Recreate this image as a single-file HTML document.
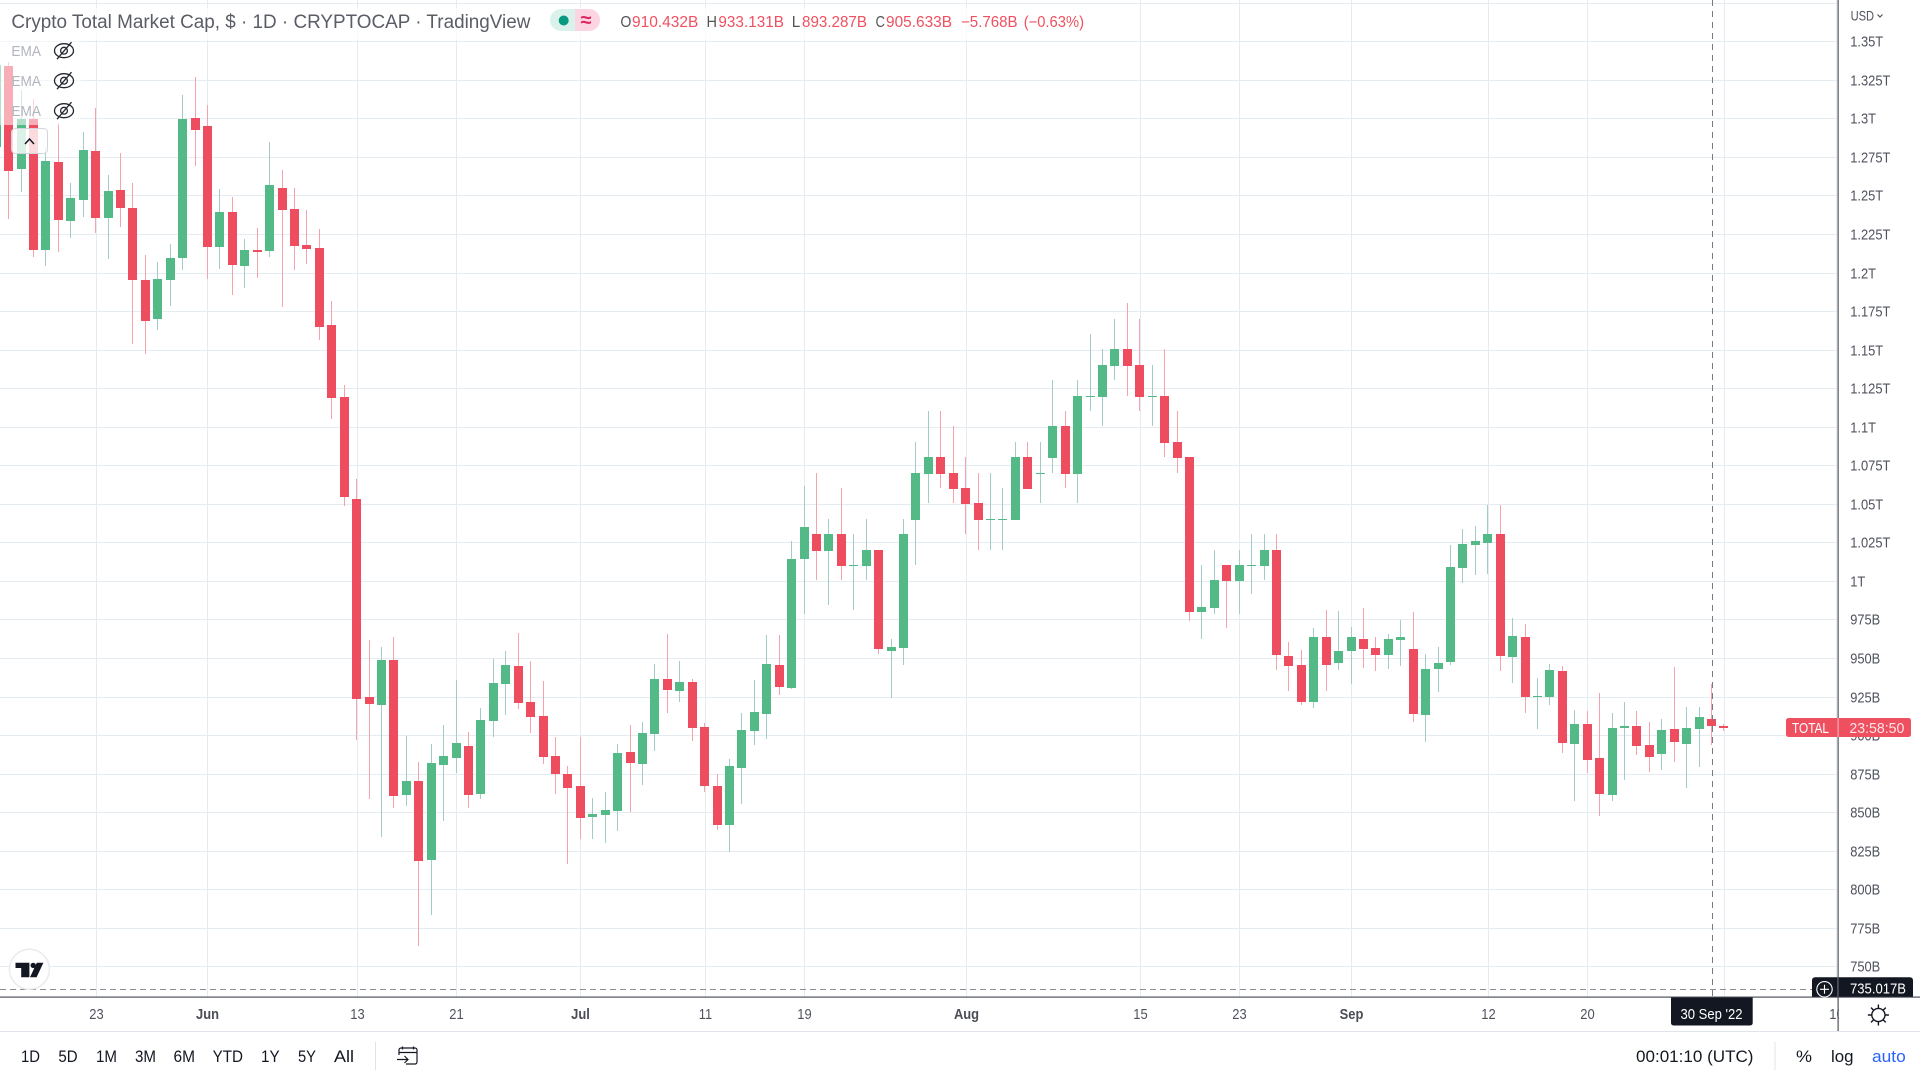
<!DOCTYPE html>
<html lang="en">
<head>
<meta charset="utf-8">
<title>Crypto Total Market Cap chart</title>
<style>
html,body{margin:0;padding:0;background:#fff;overflow:hidden}
svg{display:block;font-family:"Liberation Sans",sans-serif}
</style>
</head>
<body>
<svg id="chart" xmlns="http://www.w3.org/2000/svg" width="1920" height="1080" viewBox="0 0 1920 1080">
  <rect x="0" y="0" width="1920" height="1080" fill="#ffffff"/>
  <g id="grid"></g>
  <g id="candles"></g>

  <rect x="0" y="40" width="81" height="85" fill="#ffffff" opacity="0.55"/>
  <rect x="0" y="8" width="1090" height="32" fill="#ffffff" opacity="0.7"/>
  <text x="11.4" y="28" font-size="19" fill="#5a5d66" textLength="519" lengthAdjust="spacingAndGlyphs">Crypto Total Market Cap, $ · 1D · CRYPTOCAP · TradingView</text>

  <g>
    <path d="M561 9H575V31H561a11 11 0 0 1 0-22z" fill="#DAF1EC"/>
    <path d="M575 9H589a11 11 0 0 1 0 22H575z" fill="#FBD5E2"/>
    <circle cx="563.7" cy="20.5" r="5" fill="#089981"/>
    <text x="586" y="26.5" font-size="20" font-weight="bold" fill="#E0245E" text-anchor="middle">≈</text>
  </g>

  <g font-size="15.5">
    <text x="620.4" y="27" fill="#555" textLength="11" lengthAdjust="spacingAndGlyphs">O</text>
    <text x="632" y="27" fill="#EF5060" textLength="66.4" lengthAdjust="spacingAndGlyphs">910.432B</text>
    <text x="706.5" y="27" fill="#555" textLength="10.5" lengthAdjust="spacingAndGlyphs">H</text>
    <text x="718.4" y="27" fill="#EF5060" textLength="65.6" lengthAdjust="spacingAndGlyphs">933.131B</text>
    <text x="791.8" y="27" fill="#555" textLength="8.5" lengthAdjust="spacingAndGlyphs">L</text>
    <text x="802" y="27" fill="#EF5060" textLength="65" lengthAdjust="spacingAndGlyphs">893.287B</text>
    <text x="875.5" y="27" fill="#555" textLength="9.5" lengthAdjust="spacingAndGlyphs">C</text>
    <text x="886" y="27" fill="#EF5060" textLength="66" lengthAdjust="spacingAndGlyphs">905.633B</text>
    <text x="961" y="27" fill="#EF5060" textLength="56.6" lengthAdjust="spacingAndGlyphs">−5.768B</text>
    <text x="1023.7" y="27" fill="#EF5060" textLength="60.3" lengthAdjust="spacingAndGlyphs">(−0.63%)</text>
  </g>

  <g>
    <text x="11.4" y="56" font-size="15" fill="#B2B5BE" textLength="29.6" lengthAdjust="spacingAndGlyphs">EMA</text>
    <g transform="translate(64 50.7)" fill="none" stroke="#23262e" stroke-width="1.3"><ellipse rx="9.5" ry="7"/><circle r="3.4"/><path d="M-7 8.5L7.5 -8.5"/></g>
  </g>
  <g>
    <text x="11.4" y="86" font-size="15" fill="#B2B5BE" textLength="29.6" lengthAdjust="spacingAndGlyphs">EMA</text>
    <g transform="translate(64 80.7)" fill="none" stroke="#23262e" stroke-width="1.3"><ellipse rx="9.5" ry="7"/><circle r="3.4"/><path d="M-7 8.5L7.5 -8.5"/></g>
  </g>
  <g>
    <text x="11.4" y="116" font-size="15" fill="#B2B5BE" textLength="29.6" lengthAdjust="spacingAndGlyphs">EMA</text>
    <g transform="translate(64 110.7)" fill="none" stroke="#23262e" stroke-width="1.3"><ellipse rx="9.5" ry="7"/><circle r="3.4"/><path d="M-7 8.5L7.5 -8.5"/></g>
  </g>
  <g>
    <rect x="11.5" y="128.5" width="36" height="25" rx="4" fill="#ffffff" fill-opacity="0.8" stroke="#D1D4DC"/>
    <path d="M25 144L29.5 139L34 144" fill="none" stroke="#131722" stroke-width="1.5"/>
  </g>

  <g id="crosshair"></g>

  <g>
    <circle cx="29.4" cy="969.3" r="20" fill="#ffffff" stroke="#EBEBEB" stroke-width="1.5"/>
    <path d="M15.5 962.7H29.4V977.3H21.2V968H15.5Z" fill="#131722"/>
    <circle cx="33.2" cy="965.4" r="2.7" fill="#131722"/>
    <path d="M36.8 962.7H43.4L36.6 977.3H30Z" fill="#131722"/>
  </g>

  <g id="timeLabels"></g>

  <rect x="1839" y="998" width="81" height="33" fill="#ffffff"/>
  <g id="priceLabels"></g>

  <rect x="1837.5" y="0" width="1.2" height="1031" fill="#50535E"/>
  <rect x="0" y="996.5" width="1920" height="1.2" fill="#50535E"/>
  <rect x="0" y="1031" width="1920" height="1" fill="#E0E3EB"/>

  <g>
    <text x="1850.6" y="20.5" font-size="14" fill="#50535E" textLength="23.5" lengthAdjust="spacingAndGlyphs">USD</text>
    <path d="M1877.5 14.5L1880 17L1882.5 14.5" fill="none" stroke="#50535E" stroke-width="1.2"/>
  </g>

  <g>
    <rect x="1786" y="718" width="125" height="19" rx="2.5" fill="#EF5060"/>
    <rect x="1837.5" y="718" width="1.2" height="19" fill="#ffffff" opacity="0.5"/>
    <text x="1792" y="733" font-size="15" fill="#ffffff" textLength="37" lengthAdjust="spacingAndGlyphs">TOTAL</text>
    <text x="1849.4" y="733" font-size="15" fill="#FFE3E6" textLength="55" lengthAdjust="spacingAndGlyphs">23:58:50</text>
  </g>

  <g>
    <path d="M1838.6 977.3H1910a3 3 0 0 1 3 3V996.7H1838.6Z" fill="#131722"/>
    <text x="1850" y="993.5" font-size="15" fill="#ffffff" textLength="56" lengthAdjust="spacingAndGlyphs">735.017B</text>
  </g>
  <g>
    <path d="M1815 977.3H1837.4V996.7H1812V980.3a3 3 0 0 1 3-3z" fill="#131722"/>
    <circle cx="1824.5" cy="989.3" r="7.7" fill="none" stroke="#ffffff" stroke-width="1.1"/>
    <path d="M1824.5 984.8V993.8M1820 989.3H1829" stroke="#ffffff" stroke-width="1.1"/>
  </g>
  <g>
    <path d="M1671 997.5H1752.7V1023a2.5 2.5 0 0 1-2.5 2.5H1673.5a2.5 2.5 0 0 1-2.5-2.5Z" fill="#131722"/>
    <text x="1680.5" y="1019" font-size="15" fill="#ffffff" textLength="62" lengthAdjust="spacingAndGlyphs">30 Sep '22</text>
  </g>

  <g fill="none" stroke="#131722" stroke-width="1.4">
    <circle cx="1878.4" cy="1015" r="6.6"/>
    <path d="M1878.4 1004.5V1008.4M1878.4 1021.6V1025.5M1867.9 1015H1871.8M1885 1015H1888.9M1871 1007.6L1873.7 1010.3M1883.1 1019.7L1885.8 1022.4M1871 1022.4L1873.7 1019.7M1883.1 1010.3L1885.8 1007.6"/>
  </g>

  <g font-size="17" fill="#131722">
    <text x="21" y="1062" textLength="19" lengthAdjust="spacingAndGlyphs">1D</text>
    <text x="58.4" y="1062" textLength="19.2" lengthAdjust="spacingAndGlyphs">5D</text>
    <text x="96" y="1062" textLength="21" lengthAdjust="spacingAndGlyphs">1M</text>
    <text x="135" y="1062" textLength="21" lengthAdjust="spacingAndGlyphs">3M</text>
    <text x="173.5" y="1062" textLength="21.5" lengthAdjust="spacingAndGlyphs">6M</text>
    <text x="212.6" y="1062" textLength="30.4" lengthAdjust="spacingAndGlyphs">YTD</text>
    <text x="261" y="1062" textLength="18.6" lengthAdjust="spacingAndGlyphs">1Y</text>
    <text x="298" y="1062" textLength="18" lengthAdjust="spacingAndGlyphs">5Y</text>
    <text x="334" y="1062" textLength="20" lengthAdjust="spacingAndGlyphs">All</text>
  </g>
  <rect x="375" y="1042" width="1" height="28" fill="#E0E3EB"/>
  <g fill="none" stroke="#131722" stroke-width="1.2">
    <path d="M399 1055V1050a2 2 0 0 1 2-2H415a2 2 0 0 1 2 2V1062a2 2 0 0 1-2 2H406"/>
    <path d="M399 1052.5H417M402.5 1046.5V1049.5M413.5 1046.5V1049.5"/>
    <path d="M397 1059.5H408M404.5 1056L408 1059.5L404.5 1063"/>
  </g>

  <text x="1636" y="1062" font-size="17" fill="#131722" textLength="117.5" lengthAdjust="spacingAndGlyphs">00:01:10 (UTC)</text>
  <rect x="1774.5" y="1042" width="1" height="28" fill="#E0E3EB"/>
  <text x="1796" y="1062" font-size="17" fill="#131722" textLength="16" lengthAdjust="spacingAndGlyphs">%</text>
  <text x="1831" y="1062" font-size="17" fill="#131722" textLength="22.5" lengthAdjust="spacingAndGlyphs">log</text>
  <text x="1872" y="1062" font-size="17" fill="#2962FF" textLength="33.7" lengthAdjust="spacingAndGlyphs">auto</text>
</svg>

<script>
const opens = [
1281.7,1334.0,1267.2,1299.6,1214.6,1271.7,1233.4,1247.1,1278.9,1235.4,
1253.6,1241.9,1195.2,1169.9,1195.2,1209.4,1300.3,1295.1,1216.6,1239.3,
1204.3,1214.6,1214.0,1254.9,1241.2,1217.9,1215.9,1166.0,1119.3,1053.1,
924.7,919.5,948.7,861.1,870.2,819.0,880.6,885.1,892.9,861.8,
909.1,933.1,944.8,921.4,912.4,886.4,874.7,866.9,846.8,848.2,
850.8,889.0,881.2,900.7,936.4,928.6,934.4,905.2,866.9,841.7,
878.6,902.6,913.7,945.4,930.5,1014.2,1030.4,1019.4,1030.4,1009.7,
1009.7,1020.0,954.5,956.5,1039.5,1069.3,1080.4,1070.0,1060.3,1050.5,
1039.5,1039.5,1039.5,1080.4,1069.3,1079.7,1100.5,1069.3,1119.3,1119.3,
1139.4,1150.4,1140.0,1119.3,1119.9,1090.1,1080.4,979.8,982.4,1010.3,
999.9,1009.7,1009.7,1020.0,951.3,945.4,921.4,963.6,946.8,954.5,
962.3,956.5,951.9,961.7,955.8,913.0,942.9,947.4,1008.4,1023.3,
1024.6,1030.4,950.6,963.6,924.7,924.7,941.6,894.2,907.2,885.1,
861.1,904.6,905.9,893.6,887.7,903.9,894.2,903.9,910.432,905.9];

const highs = [
1340,1336.8,1318.4,1312.6,1281.7,1296.8,1258.1,1291.2,1306.7,1263.3,
1277.6,1258.1,1211.4,1206.9,1218.5,1315.2,1326.9,1308.7,1254.2,1249.0,
1221.8,1228.9,1284.7,1266.5,1254.9,1240.6,1228.3,1181.6,1127.1,1066.1,
961.7,957.1,963.6,899.4,882.5,894.2,906.5,935.7,902.0,917.6,
949.3,954.5,966.2,948.0,935.1,898.8,879.9,898.8,859.2,863.1,
894.2,906.5,908.7,946.1,965.6,948.0,936.4,907.8,874.7,884.5,
914.3,935.7,964.9,964.9,1025.9,1061.6,1070.0,1040.2,1060.3,1030.4,
1040.2,1020.0,962.3,1040.2,1090.1,1110.2,1110.2,1100.5,1080.4,1070.0,
1070.0,1060.3,1090.1,1090.1,1090.1,1130.3,1110.2,1130.3,1160.2,1150.4,
1169.9,1180.3,1169.9,1140.0,1150.4,1110.2,1080.4,1010.3,1020.0,1010.3,
1020.0,1030.4,1030.4,1030.4,960.4,955.2,969.5,981.1,980.5,970.1,
982.4,963.6,965.6,974.6,979.8,952.6,957.1,1023.3,1033.7,1035.6,
1049.2,1049.2,975.9,972.0,937.0,946.1,944.8,916.3,915.6,927.3,
914.3,921.4,915.6,908.5,910.4,944.2,918.2,918.2,933.131,907.0];

const lows = [
1270,1234.7,1252.3,1210.1,1204.3,1213.3,1222.4,1236.0,1225.4,1208.8,
1229.6,1153.7,1147.2,1162.7,1178.3,1201.7,1269.1,1195.8,1202.3,1185.4,
1190.0,1196.5,1210.1,1177.7,1201.7,1205.6,1156.3,1105.0,1048.6,896.8,
858.5,833.9,852.7,854.0,763.2,783.3,844.3,875.4,852.7,858.5,
898.8,913.0,916.9,901.3,881.2,861.8,816.4,832.6,832.6,830.0,
837.8,850.1,867.6,889.7,914.3,921.4,896.2,863.1,838.4,824.2,
855.3,893.6,897.5,926.0,929.9,978.5,1000.6,984.4,1000.6,981.1,
1000.6,952.6,924.0,945.4,1010.3,1050.5,1060.3,1050.5,1030.4,1020.0,
1020.0,1020.0,1039.5,1059.6,1050.5,1070.0,1060.3,1050.5,1110.2,1100.5,
1130.3,1119.9,1110.2,1100.5,1080.4,1070.0,974.0,962.3,978.5,969.5,
978.5,991.5,1000.6,942.2,928.6,919.5,917.6,928.6,942.2,933.1,
943.5,941.6,942.9,944.8,908.7,895.5,927.9,945.4,998.6,1003.8,
1004.5,941.6,933.8,914.3,903.9,919.5,888.4,857.2,875.4,847.5,
857.2,870.9,887.1,876.0,877.3,882.5,865.7,879.3,893.287,902.6];

const closes = [
1334.6,1265.9,1299.6,1214.6,1272.4,1234.1,1248.4,1279.5,1235.4,1252.9,
1241.9,1195.2,1168.6,1195.8,1209.4,1299.6,1292.5,1216.6,1239.3,1204.9,
1214.6,1213.3,1256.8,1240.6,1217.2,1215.3,1164.7,1118.6,1054.4,923.4,
920.2,948.7,860.5,870.2,818.3,881.9,886.4,894.9,861.1,909.8,
933.8,945.4,920.8,911.7,885.8,874.7,865.7,846.2,848.8,851.4,
888.4,881.9,901.3,936.4,929.2,934.4,904.6,866.9,841.7,879.9,
903.3,915.0,946.1,931.2,1014.2,1035.0,1019.4,1030.4,1009.7,1010.3,
1020.0,955.8,957.1,1030.4,1070.0,1080.4,1069.3,1059.6,1049.9,1039.5,
1040.2,1040.2,1080.4,1059.6,1070.0,1100.5,1069.3,1119.9,1119.9,1140.0,
1150.4,1139.4,1119.3,1119.9,1089.4,1079.7,979.8,983.1,1000.6,999.9,
1010.3,1010.3,1020.0,951.9,944.8,921.4,963.6,945.4,954.5,963.6,
955.8,951.9,962.3,963.6,913.7,942.9,946.8,1009.0,1023.9,1025.9,
1030.4,951.3,964.3,924.7,925.3,942.2,894.9,907.2,883.8,861.8,
904.6,905.9,892.9,885.8,903.3,895.5,904.6,911.7,905.633,904.6];

const priceTickValues = [1375,1350,1325,1300,1275,1250,1225,1200,1175,1150,1125,1100,1075,1050,1025,1000,975,950,925,900,875,850,825,800,775,750];
const priceTickLabels = ["","1.35T","1.325T","1.3T","1.275T","1.25T","1.225T","1.2T","1.175T","1.15T","1.125T","1.1T","1.075T","1.05T","1.025T","1T","975B","950B","925B","900B","875B","850B","825B","800B","775B","750B"];
const timeTickDays = [8,17,29,37,47,57,65,78,92,100,109,120,128,139,148];
const timeTickLabels = ["23","Jun","13","21","Jul","11","19","Aug","15","23","Sep","12","20","Oct","10"];
const timeTickIsMonth = [false,true,false,false,true,false,false,true,false,false,true,false,false,true,false];
const crosshairDay = [138];
const crosshairPrice = [735.017];

function priceToY(v) { return 41.3 + (1350 - v) * 1.54167; }
function dayToX(i) { return -3.83 + i * 12.43; }

const NS = 'http://www.w3.org/2000/svg';
function make(tag, attrs, parent) {
  const el = document.createElementNS(NS, tag);
  for (const k in attrs) el.setAttribute(k, attrs[k]);
  parent.appendChild(el);
  return el;
}

const gridGroup = document.getElementById('grid');
const candleGroup = document.getElementById('candles');
const priceGroup = document.getElementById('priceLabels');
const timeGroup = document.getElementById('timeLabels');
const crossGroup = document.getElementById('crosshair');

priceTickValues.forEach(function (v, i) {
  const y = Math.round(priceToY(v));
  const line = make('rect', { x: 0, y: y, width: 1838, height: 1, fill: '#E4ECF2' }, gridGroup);
  
  
  if (priceTickLabels[i]) {
    const t = make('text', { x: 1850.2, y: y + 5.5, 'font-size': 15, fill: '#50535E' }, priceGroup);
    t.textContent = priceTickLabels[i];
    
    
    t.setAttribute('textLength', (t.getComputedTextLength() * 0.86).toFixed(1));
    t.setAttribute('lengthAdjust', 'spacingAndGlyphs');
  }
});

timeTickDays.forEach(function (d, i) {
  const x = Math.round(dayToX(d));
  const line = make('rect', { x: x, y: 0, width: 1, height: 997, fill: '#E4ECF2' }, gridGroup);
  
  
  const month = timeTickIsMonth[i];
  const t = make('text', { x: x + 0.5, y: 1019, 'font-size': 15, 'text-anchor': 'middle', fill: month ? '#4A4D56' : '#50535E', 'font-weight': month ? 'bold' : 'normal' }, timeGroup);
  t.textContent = timeTickLabels[i];
  
  
  t.setAttribute('textLength', (t.getComputedTextLength() * 0.86).toFixed(1));
  t.setAttribute('lengthAdjust', 'spacingAndGlyphs');
});

opens.forEach(function (o, i) {
  const c = closes[i];
  const up = c >= o;
  const left = Math.round(dayToX(i) - 4.5);
  const top = Math.round(priceToY(Math.max(o, c)));
  const bottom = Math.round(priceToY(Math.min(o, c)));
  const hi = Math.round(priceToY(highs[i]));
  const lo = Math.round(priceToY(lows[i]));
  const wick = make('rect', { x: left + 4, y: hi, width: 1, height: Math.max(1, lo - hi), fill: up ? '#A3CBC8' : '#F7A3AE' }, candleGroup);
  
  
  const body = make('rect', { x: left, y: top, width: 9, height: Math.max(1, bottom - top), fill: up ? '#53B987' : '#EE4D5F' }, candleGroup);
  
  
});

const crossV = make('line', { x1: Math.round(dayToX(crosshairDay[0])) + 0.5, y1: 0, x2: Math.round(dayToX(crosshairDay[0])) + 0.5, y2: 997, stroke: '#777A80', 'stroke-width': 1, 'stroke-dasharray': '6 5' }, crossGroup);


const crossH = make('line', { x1: 0, y1: Math.round(priceToY(crosshairPrice[0])) + 0.5, x2: 1812, y2: Math.round(priceToY(crosshairPrice[0])) + 0.5, stroke: '#8A8C92', 'stroke-width': 1, 'stroke-dasharray': '6 4' }, crossGroup);


</script>
</body>
</html>
